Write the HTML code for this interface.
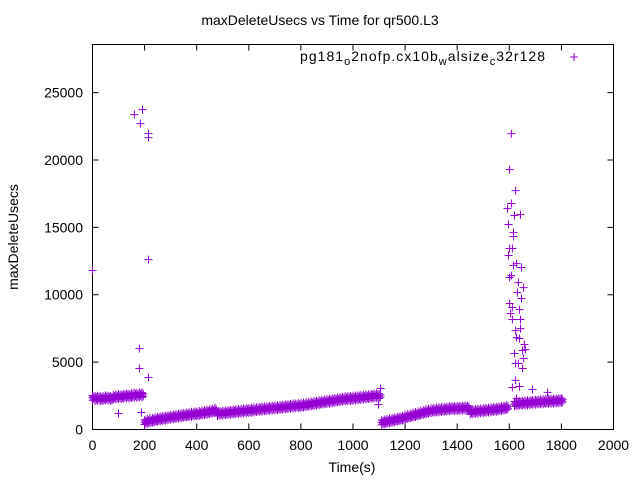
<!DOCTYPE html>
<html><head><meta charset="utf-8"><style>
body{margin:0;background:#fff}
svg{display:block;font-family:"Liberation Sans",sans-serif}
</style></head><body>
<svg id="c" width="640" height="480" xmlns="http://www.w3.org/2000/svg">
<text x="320" y="25" font-size="14" text-anchor="middle">maxDeleteUsecs vs Time for qr500.L3</text>
<rect x="92.5" y="44.5" width="521" height="385" fill="none" stroke="#000" stroke-width="1"/>
<g id="ticks"></g>
<g id="marks"></g>
<text x="352" y="472" font-size="14" text-anchor="middle">Time(s)</text>
<text transform="translate(18,237) rotate(-90)" font-size="14" text-anchor="middle">maxDeleteUsecs</text>
<g>
<text x="300" y="61" font-size="14" textLength="245" lengthAdjust="spacing">pg181<tspan font-size="11" dy="4">o</tspan><tspan dy="-4">2nofp.cx10b</tspan><tspan font-size="11" dy="4">w</tspan><tspan dy="-4">alsize</tspan><tspan font-size="11" dy="4">c</tspan><tspan dy="-4">32r128</tspan></text>
<path d="M570,57h8M574,53v8" stroke="#9400d3" stroke-width="1"/>
</g>
</svg>
<script>
const xTicks=[0,200,400,600,800,1000,1200,1400,1600,1800,2000];
const yTicks=[0,5000,10000,15000,20000,25000];
const seg1Start=0, seg1=[2350,2300,2320,2280,2300,2350,2330,2300,2400,2420,2450,2430,2480,2500,2470,2520,2550,2530,2580,2560];
const seg2Start=200, seg2=[550,600,640,680,720,760,790,820,850,880,910,940,970,1000,1020,1050,1080,1100,1130,1150,1160,1190,1220,1250,1280,1320,1360,1420,1180,1200,1220,1240,1260,1280,1300,1320,1340,1360,1380,1400,1410,1430,1450,1470,1490,1510,1530,1550,1570,1590,1600,1620,1640,1660,1680,1700,1720,1740,1760,1770,1780,1810,1840,1870,1900,1930,1960,1990,2020,2050,2080,2100,2130,2160,2190,2220,2250,2280,2290,2300,2320,2340,2360,2380,2400,2420,2440,2470,2490,2510,2480];
const seg3Start=1110, seg3=[520,560,600,640,680,720,760,800,840,910,960,1010,1060,1110,1160,1210,1260,1310,1360,1400,1420,1440,1460,1480,1500,1520,1540,1550,1560,1560,1570,1580,1590,1600,1300,1320,1340,1360,1380,1400,1420,1440,1460,1480,1500,1530,1560,1600,1630];
const seg4Start=1620, seg4=[1900,1920,1940,1950,1970,1980,2000,2010,2030,2040,2050,2060,2080,2090,2100,2110,2120,2140,2150];
const outT=[161,192,184,215,215,215,0,180,180,215,100,188,1106,1098,1608,1601,1624,1608,1593,1620,1643,1597,1616,1616,1601,1612,1597,1616,1628,1647,1601,1608,1635,1655,1631,1647,1601,1612,1605,1639,1612,1643,1624,1643,1628,1639,1658,1662,1651,1620,1655,1624,1635,1651,1624,1612,1639,1628,1689,1747];
const outV=[23370,23740,22700,21960,21660,12610,11800,6000,4530,3860,1190,1260,3040,1850,21960,19290,17730,16770,16390,15880,15950,15210,14610,14320,13430,13430,12910,12170,12310,12020,11280,11420,10900,10530,10160,9720,9350,9050,8610,8900,8160,8160,7340,7490,6820,6750,6310,5930,5860,5640,5270,4900,4900,4530,3640,3120,3190,2300,2970,2750];
const X=t=>92.5+t*521/2000, Y=v=>429.5-v*385/28570;
const NS="http://www.w3.org/2000/svg";
const tk=document.getElementById('ticks'), mk=document.getElementById('marks');
function el(tag,attrs,parent){const e=document.createElementNS(NS,tag);for(const k in attrs)e.setAttribute(k,attrs[k]);parent.appendChild(e);return e;}
xTicks.forEach(t=>{
 const x=X(t);
 const l=el('path',{d:`M${x},429.5v-6M${x},44.5v6`,stroke:'#000'},tk);
 
 
 const s=el('text',{x:x,y:450,'font-size':14,'text-anchor':'middle'},tk);s.textContent=t;
 
 
});
yTicks.forEach(v=>{
 const y=Y(v);
 const l=el('path',{d:`M92.5,${y}h6M613.5,${y}h-6`,stroke:'#000'},tk);
 
 
 const s=el('text',{x:83,y:y+5,'font-size':14,'text-anchor':'end'},tk);s.textContent=v;
 
 
});
let d='';
function plus(t,v){const x=X(t),y=Y(v);d+=`M${(x-4).toFixed(1)},${y.toFixed(1)}h8M${x.toFixed(1)},${(y-4).toFixed(1)}v8`;}
[[seg1Start,seg1],[seg2Start,seg2],[seg3Start,seg3],[seg4Start,seg4]].forEach(([s,arr])=>{
 arr.forEach((v,i)=>{const t=s+i*10;plus(t,v-180);plus(t,v);plus(t,v+180);plus(t+5,v+90);plus(t+5,v-90);});
});
outT.forEach((t,i)=>plus(t,outV[i]));
const p=el('path',{d:d,stroke:'#9400d3','stroke-width':1,fill:'none'},mk);


</script>
</body></html>
